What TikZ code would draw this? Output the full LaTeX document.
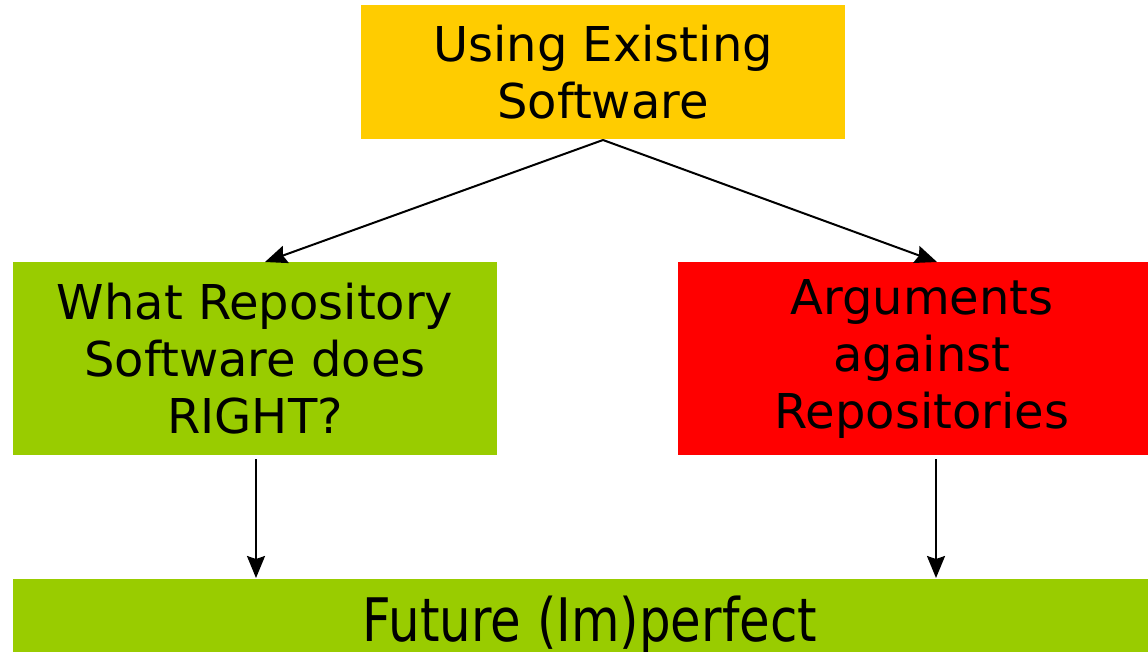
\documentclass[tikz,border=0pt]{standalone}
\usepackage{graphicx}
\usepackage{fontspec}
\setmainfont{DejaVu Sans}
\usetikzlibrary{arrows.meta}

\definecolor{usegold}{HTML}{FFCC00}
\definecolor{repogreen}{HTML}{99CC00}
\definecolor{argred}{HTML}{FF0000}

\begin{document}
\begin{tikzpicture}[x=1pt, y=-1pt, ->, >={Stealth[length=22pt, width=18pt, inset=3pt]}, line width=2pt,
    topic/.style={rectangle, inner sep=0pt, align=center, font=\fontsize{48}{57}\selectfont}]
    \useasboundingbox (0,0) rectangle (1148,651);

    \node[topic, fill=usegold,   minimum width=484pt, minimum height=134pt] (USE) at (603,72)    {Using Existing\\Software};
    \node[topic, fill=repogreen, minimum width=484pt, minimum height=193pt] (WHAT) at (255,358.5) {What Repository\\Software does\\RIGHT?};
    \node[topic, fill=argred,    minimum width=470pt, minimum height=193pt] (ARG) at (913,358.5)  {};
    \node[topic] (ARGtext) at (922,359) {Arguments\\against\\Repositories};
    \node[topic, fill=repogreen, minimum width=1135pt, minimum height=100pt] (FUT) at (580.5,629) {};
    \node[topic, font=\fontsize{60}{70}\selectfont] (FUTtext) at (590,625) {\scalebox{0.83}[1]{Future (Im)perfect}};

    \coordinate (WHATin)  at (265,262);
    \coordinate (ARGin)   at (937,262);
    \coordinate (WHATout) at (256,459);
    \coordinate (ARGout)  at (936,459);

    \path (USE.south) edge [] node {} (WHATin)
          (USE.south) edge [] node {} (ARGin)
          (WHATout)   edge [] node {} (WHATout |- FUT.north)
          (ARGout)    edge [] node {} (ARGout |- FUT.north);
\end{tikzpicture}
\end{document}
